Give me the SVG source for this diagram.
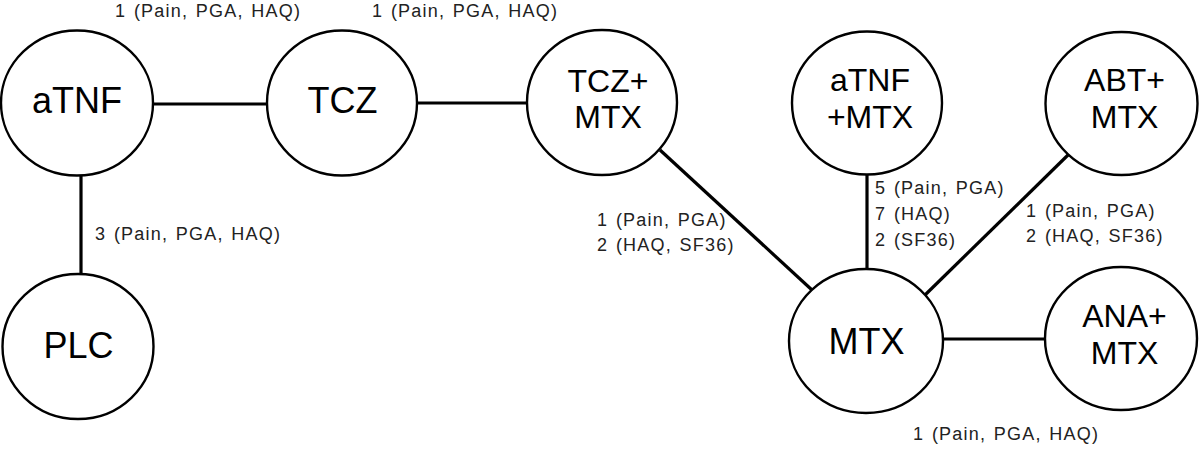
<svg xmlns="http://www.w3.org/2000/svg" width="1200" height="449" viewBox="0 0 1200 449">
<style>
.node circle, .node ellipse { fill: #ffffff; stroke: #000000; stroke-width: 2.4; }
.nl { font-family: "Liberation Sans", Arial, sans-serif; font-size: 36px; fill: #000; text-anchor: middle; }
.nl2 { font-family: "Liberation Sans", Arial, sans-serif; font-size: 32px; fill: #000; text-anchor: middle; }
.el { font-family: "Liberation Sans", Arial, sans-serif; font-size: 18px; fill: #222; letter-spacing: 1.2px; word-spacing: 1.5px; }
.edges line { stroke: #000; stroke-width: 3.2; }
</style>
<rect width="1200" height="449" fill="#ffffff"/>
<g class="edges" id="connectors">
  <line x1="153" y1="104" x2="267" y2="104"/>
  <line x1="417" y1="103" x2="527" y2="103"/>
  <line x1="81" y1="175" x2="81" y2="274"/>
  <line x1="660" y1="150" x2="812" y2="290"/>
  <line x1="867" y1="174" x2="867" y2="269"/>
  <line x1="1068" y1="155" x2="925" y2="295"/>
  <line x1="943" y1="339" x2="1045" y2="339"/>
</g>
<g id="edge-labels">
  <text class="el" x="115" y="17">1 (Pain, PGA, HAQ)</text>
  <text class="el" x="372" y="17">1 (Pain, PGA, HAQ)</text>
  <text class="el" x="95" y="240">3 (Pain, PGA, HAQ)</text>
  <text class="el" x="597" y="226">1 (Pain, PGA)</text>
  <text class="el" x="597" y="251">2 (HAQ, SF36)</text>
  <text class="el" x="875" y="194">5 (Pain, PGA)</text>
  <text class="el" x="875" y="220">7 (HAQ)</text>
  <text class="el" x="875" y="246">2 (SF36)</text>
  <text class="el" x="1026" y="217">1 (Pain, PGA)</text>
  <text class="el" x="1026" y="242">2 (HAQ, SF36)</text>
  <text class="el" x="913" y="440">1 (Pain, PGA, HAQ)</text>
</g>
<g class="node" id="aTNF">
  <ellipse cx="77" cy="103" rx="76" ry="72.5"/>
  <text class="nl" x="77" y="113">aTNF</text>
</g>
<g class="node" id="TCZ">
  <ellipse cx="342" cy="103" rx="75" ry="72.5"/>
  <text class="nl" x="342.5" y="113">TCZ</text>
</g>
<g class="node" id="TCZ_MTX">
  <ellipse cx="602" cy="102.5" rx="75" ry="72.5"/>
  <text class="nl2" x="608" y="92">TCZ+</text>
  <text class="nl2" x="608" y="128">MTX</text>
</g>
<g class="node" id="aTNF_MTX">
  <ellipse cx="867" cy="103" rx="75" ry="71.5"/>
  <text class="nl2" x="870" y="91">aTNF</text>
  <text class="nl2" x="870" y="128">+MTX</text>
</g>
<g class="node" id="ABT_MTX">
  <ellipse cx="1121.5" cy="103.5" rx="76" ry="71.5"/>
  <text class="nl2" x="1124.5" y="91">ABT+</text>
  <text class="nl2" x="1124.5" y="128">MTX</text>
</g>
<g class="node" id="PLC">
  <ellipse cx="78" cy="346.5" rx="75.5" ry="72.5"/>
  <text class="nl" x="78.5" y="358">PLC</text>
</g>
<g class="node" id="MTX">
  <ellipse cx="866" cy="341" rx="77" ry="72"/>
  <text class="nl" x="866.5" y="354">MTX</text>
</g>
<g class="node" id="ANA_MTX">
  <ellipse cx="1121" cy="338.5" rx="76" ry="71.5"/>
  <text class="nl2" x="1124.5" y="327">ANA+</text>
  <text class="nl2" x="1124.5" y="364">MTX</text>
</g>
</svg>
